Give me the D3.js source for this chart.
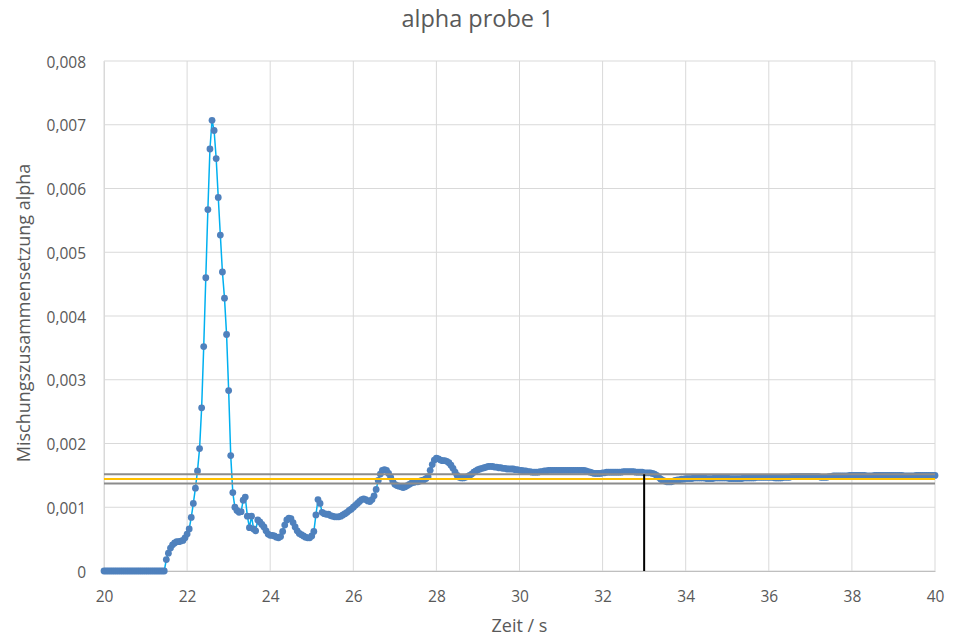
<!DOCTYPE html>
<html>
<head>
<meta charset="utf-8">
<script src="https://cdn.jsdelivr.net/npm/d3@7"></script>
<style>
  html, body { margin: 0; padding: 0; background: #ffffff; }
  svg { display: block; }
</style>
</head>
<body>
<svg id="chart" width="955" height="637"></svg>
<script>
// ---------------- DATA ----------------
const chartTitle = "alpha probe 1";
const xAxisTitle = "Zeit / s";
const yAxisTitle = "Mischungszusammensetzung alpha";

const xTicks = [20, 22, 24, 26, 28, 30, 32, 34, 36, 38, 40];
const yTicks = [0, 0.001, 0.002, 0.003, 0.004, 0.005, 0.006, 0.007, 0.008];

const time = [
  20,20.05,20.1,20.15,20.2,20.25,20.3,20.35,20.4,20.45,20.5,20.55,20.6,20.65,20.7,20.75,20.8,20.85,20.9,20.95,
  21,21.05,21.1,21.15,21.2,21.25,21.3,21.35,21.4,21.45,21.5,21.55,21.6,21.65,21.7,21.75,21.8,21.85,21.9,21.95,
  22,22.05,22.1,22.15,22.2,22.25,22.3,22.35,22.4,22.45,22.5,22.55,22.6,22.65,22.7,22.75,22.8,22.85,22.9,22.95,
  23,23.05,23.1,23.15,23.2,23.25,23.3,23.35,23.4,23.45,23.5,23.55,23.6,23.65,23.7,23.75,23.8,23.85,23.9,23.95,
  24,24.05,24.1,24.15,24.2,24.25,24.3,24.35,24.4,24.45,24.5,24.55,24.6,24.65,24.7,24.75,24.8,24.85,24.9,24.95,
  25,25.05,25.1,25.15,25.2,25.25,25.3,25.35,25.4,25.45,25.5,25.55,25.6,25.65,25.7,25.75,25.8,25.85,25.9,25.95,
  26,26.05,26.1,26.15,26.2,26.25,26.3,26.35,26.4,26.45,26.5,26.55,26.6,26.65,26.7,26.75,26.8,26.85,26.9,26.95,
  27,27.05,27.1,27.15,27.2,27.25,27.3,27.35,27.4,27.45,27.5,27.55,27.6,27.65,27.7,27.75,27.8,27.85,27.9,27.95,
  28,28.05,28.1,28.15,28.2,28.25,28.3,28.35,28.4,28.45,28.5,28.55,28.6,28.65,28.7,28.75,28.8,28.85,28.9,28.95,
  29,29.05,29.1,29.15,29.2,29.25,29.3,29.35,29.4,29.45,29.5,29.55,29.6,29.65,29.7,29.75,29.8,29.85,29.9,29.95,
  30,30.05,30.1,30.15,30.2,30.25,30.3,30.35,30.4,30.45,30.5,30.55,30.6,30.65,30.7,30.75,30.8,30.85,30.9,30.95,
  31,31.05,31.1,31.15,31.2,31.25,31.3,31.35,31.4,31.45,31.5,31.55,31.6,31.65,31.7,31.75,31.8,31.85,31.9,31.95,
  32,32.05,32.1,32.15,32.2,32.25,32.3,32.35,32.4,32.45,32.5,32.55,32.6,32.65,32.7,32.75,32.8,32.85,32.9,32.95,
  33,33.05,33.1,33.15,33.2,33.25,33.3,33.35,33.4,33.45,33.5,33.55,33.6,33.65,33.7,33.75,33.8,33.85,33.9,33.95,
  34,34.05,34.1,34.15,34.2,34.25,34.3,34.35,34.4,34.45,34.5,34.55,34.6,34.65,34.7,34.75,34.8,34.85,34.9,34.95,
  35,35.05,35.1,35.15,35.2,35.25,35.3,35.35,35.4,35.45,35.5,35.55,35.6,35.65,35.7,35.75,35.8,35.85,35.9,35.95,
  36,36.05,36.1,36.15,36.2,36.25,36.3,36.35,36.4,36.45,36.5,36.55,36.6,36.65,36.7,36.75,36.8,36.85,36.9,36.95,
  37,37.05,37.1,37.15,37.2,37.25,37.3,37.35,37.4,37.45,37.5,37.55,37.6,37.65,37.7,37.75,37.8,37.85,37.9,37.95,
  38,38.05,38.1,38.15,38.2,38.25,38.3,38.35,38.4,38.45,38.5,38.55,38.6,38.65,38.7,38.75,38.8,38.85,38.9,38.95,
  39,39.05,39.1,39.15,39.2,39.25,39.3,39.35,39.4,39.45,39.5,39.55,39.6,39.65,39.7,39.75,39.8,39.85,39.9,39.95,
  40
];

const alpha = [
  0,0,0,0,0,0,0,0,0,0,0,0,0,0,0,0,0,0,0,0,
  0,0,0,0,0,0,0,0,0,0,0.00018,0.00028,0.00036,0.00041,0.00044,0.00046,0.00046,0.00047,0.00048,0.00052,
  0.00058,0.00066,0.00084,0.00106,0.00130,0.00157,0.00192,0.00256,0.00352,0.00460,0.00567,0.00662,0.00707,0.00691,0.00647,0.00586,0.00527,0.00469,0.00428,0.00371,
  0.00283,0.00181,0.00123,0.00100,0.00095,0.00092,0.00093,0.00111,0.00116,0.00086,0.00068,0.00086,0.00066,0.00063,0.00080,0.00077,0.00073,0.00069,0.00063,0.00058,
  0.00056,0.00056,0.00055,0.00053,0.00052,0.00054,0.00062,0.00072,0.00080,0.00083,0.00082,0.00076,0.00069,0.00063,0.00059,0.00057,0.00055,0.00053,0.00052,0.00052,
  0.00055,0.00062,0.00088,0.00112,0.00106,0.00092,0.00090,0.00089,0.00089,0.00087,0.00086,0.00085,0.00085,0.00085,0.00086,0.00088,0.00090,0.00092,0.00095,0.00097,
  0.00100,0.00103,0.00106,0.00109,0.00112,0.00113,0.00112,0.00110,0.00109,0.00112,0.00118,0.00128,0.00142,0.00152,0.00158,0.00159,0.00158,0.00153,0.00147,0.00141,
  0.00136,0.00134,0.00133,0.00132,0.00131,0.00132,0.00134,0.00136,0.00138,0.00139,0.00140,0.00140,0.00141,0.00142,0.00143,0.00145,0.00148,0.00158,0.00167,0.00174,
  0.00177,0.00176,0.00174,0.00173,0.00173,0.00172,0.00170,0.00166,0.00161,0.00155,0.00150,0.00147,0.00146,0.00146,0.00147,0.00148,0.00150,0.00152,0.00155,0.00157,
  0.00159,0.00160,0.00161,0.00162,0.00163,0.00164,0.00164,0.00164,0.00163,0.00163,0.00162,0.00162,0.00161,0.00161,0.00160,0.00160,0.00160,0.00160,0.00159,0.00159,
  0.00158,0.00158,0.00157,0.00157,0.00156,0.00156,0.00155,0.00155,0.00155,0.00155,0.00156,0.00156,0.00157,0.00157,0.00158,0.00158,0.00158,0.00158,0.00158,0.00158,
  0.00158,0.00158,0.00158,0.00158,0.00158,0.00158,0.00158,0.00158,0.00158,0.00158,0.00158,0.00158,0.00157,0.00156,0.00155,0.00154,0.00153,0.00153,0.00153,0.00153,
  0.00154,0.00154,0.00155,0.00155,0.00155,0.00155,0.00155,0.00155,0.00155,0.00155,0.00156,0.00156,0.00156,0.00156,0.00156,0.00156,0.00155,0.00155,0.00155,0.00155,
  0.00154,0.00154,0.00154,0.00154,0.00153,0.00152,0.00150,0.00147,0.00144,0.00142,0.00141,0.00140,0.00140,0.00140,0.00141,0.00142,0.00143,0.00143,0.00144,0.00144,
  0.00145,0.00145,0.00145,0.00145,0.00146,0.00146,0.00146,0.00146,0.00146,0.00146,0.00145,0.00145,0.00145,0.00145,0.00146,0.00146,0.00146,0.00146,0.00146,0.00146,
  0.00146,0.00145,0.00145,0.00145,0.00145,0.00145,0.00145,0.00145,0.00146,0.00146,0.00146,0.00146,0.00146,0.00146,0.00147,0.00147,0.00147,0.00147,0.00147,0.00147,
  0.00147,0.00147,0.00147,0.00146,0.00146,0.00146,0.00146,0.00147,0.00147,0.00147,0.00147,0.00148,0.00148,0.00148,0.00148,0.00148,0.00148,0.00148,0.00148,0.00148,
  0.00148,0.00148,0.00148,0.00148,0.00148,0.00147,0.00147,0.00147,0.00147,0.00148,0.00148,0.00149,0.00149,0.00149,0.00149,0.00149,0.00149,0.00149,0.00149,0.00150,
  0.00150,0.00150,0.00150,0.00150,0.00150,0.00150,0.00150,0.00149,0.00149,0.00149,0.00149,0.00150,0.00150,0.00150,0.00150,0.00150,0.00150,0.00150,0.00150,0.00150,
  0.00150,0.00150,0.00150,0.00150,0.00150,0.00149,0.00149,0.00149,0.00149,0.00149,0.00149,0.00150,0.00150,0.00150,0.00150,0.00150,0.00150,0.00150,0.00150,0.00150,
  0.00150
];

// reference levels (mean and ±5 % band) and marker time
const meanLevel = 0.001445;
const bandLevels = [0.001517, 0.001373];
const markerTime = 33.0;

// ---------------- CHART ----------------
const svg = d3.select("#chart");
const W = 955, H = 637;
const m = { left: 104, right: 20, top: 61, bottom: 66 };
const plotW = W - m.left - m.right;   // 831
const plotH = H - m.top - m.bottom;   // 510

svg.append("rect").attr("width", W).attr("height", H).attr("fill", "#ffffff");

const x = d3.scaleLinear().domain([20, 40]).range([m.left, m.left + plotW]);
const y = d3.scaleLinear().domain([0, 0.008]).range([m.top + plotH, m.top]);

const font = "'Open Sans', 'Noto Sans', sans-serif";
const textColor = "#595959";

// gridlines
const grid = svg.append("g");
grid.selectAll("line.h").data(yTicks).join("line")
  .attr("x1", m.left).attr("x2", m.left + plotW)
  .attr("y1", d => y(d)).attr("y2", d => y(d))
  .attr("stroke", "#d9d9d9").attr("stroke-width", 1);
grid.selectAll("line.v").data(xTicks).join("line")
  .attr("x1", d => x(d)).attr("x2", d => x(d))
  .attr("y1", m.top).attr("y2", m.top + plotH)
  .attr("stroke", "#d9d9d9").attr("stroke-width", 1);

// axes
const fmtY = d => d === 0 ? "0" : d3.format(".3f")(d).replace(".", ",");
const xAxis = svg.append("g")
  .attr("transform", `translate(0,${m.top + plotH})`)
  .call(d3.axisBottom(x).tickValues(xTicks).tickSize(0).tickPadding(19.5).tickFormat(d3.format("d")));
xAxis.select(".domain").attr("stroke", "#bfbfbf").attr("stroke-width", 1);
xAxis.selectAll("text").attr("font-family", font).attr("font-size", 15.5).attr("fill", textColor);

const yAxis = svg.append("g")
  .attr("transform", `translate(${m.left},0)`)
  .call(d3.axisLeft(y).tickValues(yTicks).tickSize(0).tickPadding(18).tickFormat(fmtY));
yAxis.select(".domain").attr("stroke", "#d9d9d9").attr("stroke-width", 1);
yAxis.selectAll("text").attr("font-family", font).attr("font-size", 15.5).attr("fill", textColor).attr("dy", "0.4em");

// data
const pts = time.map((t, i) => [t, alpha[i]]);
svg.append("path")
  .datum(pts)
  .attr("fill", "none")
  .attr("stroke", "#00b0f0")
  .attr("stroke-width", 1.5)
  .attr("d", d3.line().x(d => x(d[0])).y(d => y(d[1])));

svg.append("g").selectAll("circle").data(pts).join("circle")
  .attr("cx", d => x(d[0])).attr("cy", d => y(d[1]))
  .attr("r", 3.4)
  .attr("fill", "#4f81bd");

// reference lines (drawn on top)
svg.append("g").selectAll("line").data(bandLevels).join("line")
  .attr("x1", m.left).attr("x2", m.left + plotW)
  .attr("y1", d => y(d)).attr("y2", d => y(d))
  .attr("stroke", "#8c8c8c").attr("stroke-width", 2);
svg.append("line")
  .attr("x1", m.left).attr("x2", m.left + plotW)
  .attr("y1", y(meanLevel)).attr("y2", y(meanLevel))
  .attr("stroke", "#ffc000").attr("stroke-width", 2);
svg.append("line")
  .attr("x1", x(markerTime)).attr("x2", x(markerTime))
  .attr("y1", y(0)).attr("y2", y(bandLevels[0]))
  .attr("stroke", "#000000").attr("stroke-width", 2);

// titles
svg.append("text")
  .attr("x", W / 2).attr("y", 27)
  .attr("text-anchor", "middle")
  .attr("font-family", font).attr("font-size", 23.5).attr("fill", textColor)
  .text(chartTitle);

svg.append("text")
  .attr("x", m.left + plotW / 2).attr("y", 632)
  .attr("text-anchor", "middle")
  .attr("font-family", font).attr("font-size", 18).attr("fill", textColor)
  .text(xAxisTitle);

svg.append("text")
  .attr("transform", `translate(30,${m.top + plotH / 2 - 3}) rotate(-90)`)
  .attr("text-anchor", "middle")
  .attr("font-family", font).attr("font-size", 18).attr("fill", textColor)
  .text(yAxisTitle);
</script>
</body>
</html>
